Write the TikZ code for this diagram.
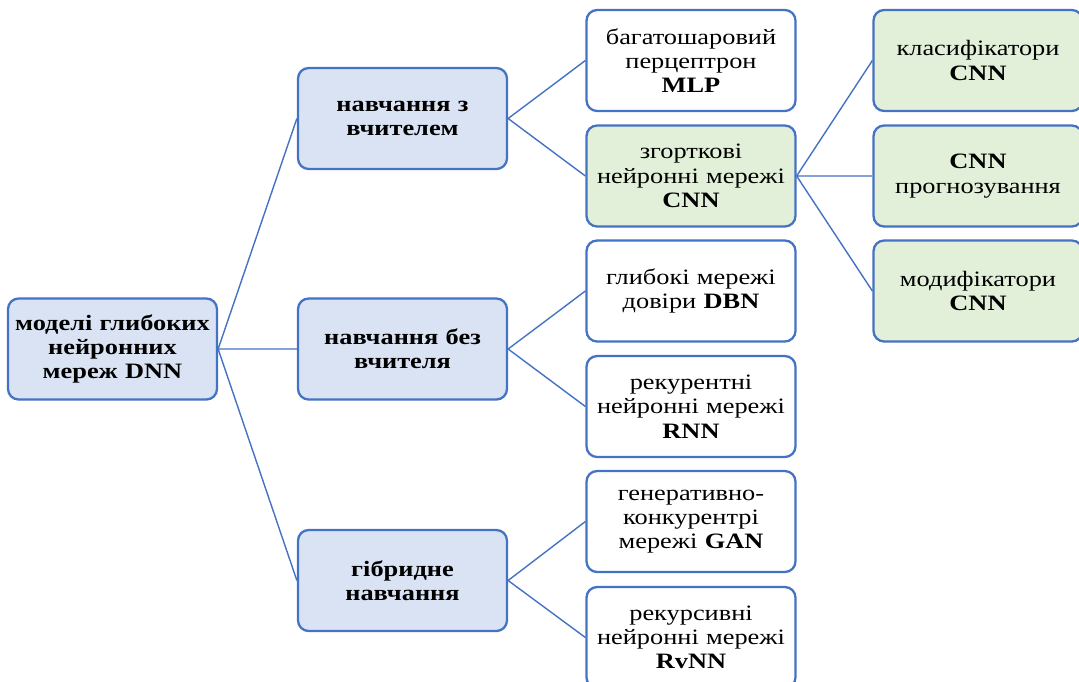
\documentclass[tikz,border=0pt]{standalone}
\usepackage{fontspec}
\setmainfont{Liberation Serif}[FakeStretch=1.2]
\usepackage{tikz}
\usetikzlibrary{positioning}

\definecolor{edgeblue}{HTML}{4472C4}
\definecolor{fillblue}{HTML}{DAE3F3}
\definecolor{fillgreen}{HTML}{E2F0D9}

\tikzset{
	box/.style={draw=edgeblue,line width=1.3pt,rounded corners=6pt,
		minimum width=4.18cm,minimum height=2.02cm,text width=3.98cm,inner xsep=0.1cm,align=center,
		font=\fontsize{12.5}{13.8}\selectfont},
	bluebox/.style={box,fill=fillblue,font=\fontsize{12.5}{13.8}\selectfont\bfseries},
	whitebox/.style={box,fill=white},
	greenbox/.style={box,fill=fillgreen},
	link/.style={draw=edgeblue,line width=0.8pt}
}

\begin{document}
\begin{tikzpicture}[x=0.02cm,y=-0.02cm]
		\useasboundingbox (0,0) rectangle (1079,681);

		\node[bluebox] (dnn) at (112.5,349) {моделі глибоких нейронних мереж DNN};

		\node[bluebox] (sup) at (402.5,118.5) {навчання з\\вчителем};
		\node[bluebox] (unsup) at (402.5,349) {навчання без\\вчителя};
		\node[bluebox] (hyb) at (402.5,580.5) {гібридне\\навчання};

		\node[whitebox] (mlp) at (691,60.5) {багатошаровий\\перцептрон\\\textbf{MLP}};
		\node[greenbox] (cnn) at (691,176) {згорткові\\нейронні мережі\\\textbf{CNN}};
		\node[whitebox] (dbn) at (691,291) {глибокі мережі\\довіри \textbf{DBN}};
		\node[whitebox] (rnn) at (691,406.5) {рекурентні\\нейронні мережі\\\textbf{RNN}};
		\node[whitebox] (gan) at (691,521.5) {генеративно-\\конкурентрі\\мережі \textbf{GAN}};
		\node[whitebox] (rvnn) at (691,637.5) {рекурсивні\\нейронні мережі\\\textbf{RvNN}};

		\node[greenbox] (cls) at (978,60.5) {класифікатори\\\textbf{CNN}};
		\node[greenbox] (prog) at (978,176) {\textbf{CNN}\\прогнозування};
		\node[greenbox] (mod) at (978,291) {модифікатори\\\textbf{CNN}};

		\draw[link] (dnn.east) -- (sup.west) (dnn.east) -- (unsup.west) (dnn.east) -- (hyb.west);
		\draw[link] (sup.east) -- (mlp.west) (sup.east) -- (cnn.west);
		\draw[link] (unsup.east) -- (dbn.west) (unsup.east) -- (rnn.west);
		\draw[link] (hyb.east) -- (gan.west) (hyb.east) -- (rvnn.west);
		\draw[link] (cnn.east) -- (cls.west) (cnn.east) -- (prog.west) (cnn.east) -- (mod.west);
	\end{tikzpicture}
\end{document}
